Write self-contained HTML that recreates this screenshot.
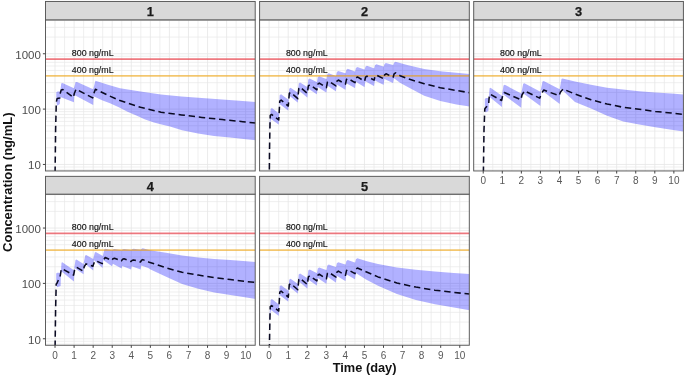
<!DOCTYPE html>
<html><head><meta charset="utf-8"><title>Concentration vs Time</title>
<style>html,body{margin:0;padding:0;background:#fff;}body{width:685px;height:376px;overflow:hidden;font-family:"Liberation Sans",sans-serif;}</style>
</head><body>
<svg width="685" height="376" viewBox="0 0 685 376" style="display:block;filter:blur(0.4px);font-family:'Liberation Sans',sans-serif">
<rect width="685" height="376" fill="#fff"/>
<g>
<clipPath id="cp0"><rect x="45.5" y="19.85" width="209.7" height="151.1"/></clipPath>
<rect x="45.5" y="19.85" width="209.7" height="151.1" fill="#fff"/>
<path d="M45.5 169.81H255.2M45.5 166.98H255.2M45.5 147.79H255.2M45.5 138.04H255.2M45.5 131.13H255.2M45.5 125.76H255.2M45.5 121.38H255.2M45.5 117.67H255.2M45.5 114.46H255.2M45.5 111.63H255.2M45.5 92.44H255.2M45.5 82.69H255.2M45.5 75.78H255.2M45.5 70.41H255.2M45.5 66.03H255.2M45.5 62.32H255.2M45.5 59.11H255.2M45.5 56.28H255.2M45.5 37.09H255.2M45.5 27.34H255.2M45.5 20.43H255.2M64.56 19.85V170.95M83.63 19.85V170.95M102.69 19.85V170.95M121.75 19.85V170.95M140.82 19.85V170.95M159.88 19.85V170.95M178.95 19.85V170.95M198.01 19.85V170.95M217.07 19.85V170.95M236.14 19.85V170.95" stroke="#e8e8e8" stroke-width="0.7" fill="none"/>
<path d="M45.5 164.45H255.2M45.5 109.10H255.2M45.5 53.75H255.2M55.03 19.85V170.95M74.10 19.85V170.95M93.16 19.85V170.95M112.22 19.85V170.95M131.29 19.85V170.95M150.35 19.85V170.95M169.41 19.85V170.95M188.48 19.85V170.95M207.54 19.85V170.95M226.60 19.85V170.95M245.67 19.85V170.95" stroke="#e6e6e6" stroke-width="0.8" fill="none"/>
<g clip-path="url(#cp0)">
<path d="M56.30 92.20 L57.60 91.40 L60.30 91.40 L61.20 83.50 L62.50 83.00 L73.90 88.30 L75.60 82.10 L77.00 82.00 L93.20 89.20 L95.40 80.80 L108.00 84.80 L120.00 88.30 L140.50 91.40 L161.00 94.40 L181.40 96.50 L201.90 98.10 L222.30 99.60 L242.80 101.00 L255.60 102.00 L255.60 140.30 L246.00 139.20 L230.00 137.60 L214.00 136.00 L198.00 133.50 L182.00 130.30 L170.00 126.60 L162.60 124.80 L153.90 122.60 L145.10 119.60 L136.30 115.60 L127.50 111.70 L118.80 107.30 L110.00 103.30 L102.00 100.20 L93.60 96.20 L93.20 104.90 L74.30 94.90 L73.90 102.30 L60.30 97.00 L59.80 104.00 L57.20 105.80 L56.30 101.40Z" fill="#0000ff" fill-opacity="0.305"/>
<path d="M45.5 59.11H255.2" stroke="#ea1420" stroke-opacity="0.55" stroke-width="1.7"/>
<path d="M45.5 75.78H255.2" stroke="#f2a000" stroke-opacity="0.55" stroke-width="1.7"/>
<path d="M55.10 173.00 L55.60 130.00 L56.30 102.00 L57.20 98.40 L59.80 97.90 L60.30 93.10 L61.20 90.00 L62.90 89.60 L73.40 97.50 L74.30 93.50 L76.10 89.20 L92.70 97.90 L94.10 92.70 L95.40 89.20 L108.00 95.30 L120.00 100.60 L140.50 107.30 L161.00 112.20 L181.40 114.90 L201.90 117.40 L222.30 119.60 L242.80 121.70 L255.60 123.10" fill="none" stroke="#0a0a22" stroke-width="1.55" stroke-dasharray="6.4 3.8" stroke-linejoin="round"/>
</g>
<text x="71.8" y="55.9" font-size="8.85" fill="#111" stroke="#111" stroke-width="0.15">800 ng/mL</text>
<text x="71.8" y="72.6" font-size="8.85" fill="#111" stroke="#111" stroke-width="0.15">400 ng/mL</text>
<rect x="45.5" y="19.85" width="209.7" height="151.1" fill="none" stroke="#555" stroke-width="0.95"/>
<rect x="45.5" y="1.4500000000000028" width="209.7" height="18.4" fill="#d9d9d9" stroke="#555" stroke-width="0.95"/>
<text x="150.3" y="15.85" font-size="12.8" font-weight="bold" stroke="#1a1a1a" stroke-width="0.25" text-anchor="middle" fill="#1a1a1a">1</text>
<text x="40.9" y="169.2" font-size="11.5" text-anchor="end" fill="#4d4d4d">10</text>
<text x="40.9" y="113.9" font-size="11.5" text-anchor="end" fill="#4d4d4d">100</text>
<text x="40.9" y="58.5" font-size="11.5" text-anchor="end" fill="#4d4d4d">1000</text>
<path d="M42.9 164.45H45.5M42.9 109.10H45.5M42.9 53.75H45.5" stroke="#444" stroke-width="1"/>
</g>
<g>
<clipPath id="cp1"><rect x="259.6" y="19.85" width="209.7" height="151.1"/></clipPath>
<rect x="259.6" y="19.85" width="209.7" height="151.1" fill="#fff"/>
<path d="M259.6 169.81H469.3M259.6 166.98H469.3M259.6 147.79H469.3M259.6 138.04H469.3M259.6 131.13H469.3M259.6 125.76H469.3M259.6 121.38H469.3M259.6 117.67H469.3M259.6 114.46H469.3M259.6 111.63H469.3M259.6 92.44H469.3M259.6 82.69H469.3M259.6 75.78H469.3M259.6 70.41H469.3M259.6 66.03H469.3M259.6 62.32H469.3M259.6 59.11H469.3M259.6 56.28H469.3M259.6 37.09H469.3M259.6 27.34H469.3M259.6 20.43H469.3M278.66 19.85V170.95M297.73 19.85V170.95M316.79 19.85V170.95M335.85 19.85V170.95M354.92 19.85V170.95M373.98 19.85V170.95M393.05 19.85V170.95M412.11 19.85V170.95M431.17 19.85V170.95M450.24 19.85V170.95" stroke="#e8e8e8" stroke-width="0.7" fill="none"/>
<path d="M259.6 164.45H469.3M259.6 109.10H469.3M259.6 53.75H469.3M269.13 19.85V170.95M288.20 19.85V170.95M307.26 19.85V170.95M326.32 19.85V170.95M345.39 19.85V170.95M364.45 19.85V170.95M383.51 19.85V170.95M402.58 19.85V170.95M421.64 19.85V170.95M440.70 19.85V170.95M459.77 19.85V170.95" stroke="#e6e6e6" stroke-width="0.8" fill="none"/>
<g clip-path="url(#cp1)">
<path d="M269.63 123.00 L270.63 109.00 L271.93 108.00 L278.56 113.20 L278.86 113.20 L279.66 95.20 L281.06 94.20 L288.09 99.50 L288.39 99.50 L289.19 88.70 L290.59 87.70 L297.63 92.60 L297.93 92.60 L298.73 83.50 L300.13 82.50 L307.16 86.90 L307.46 86.90 L308.26 79.50 L309.66 78.50 L316.69 82.00 L316.99 82.00 L317.79 77.30 L319.19 76.30 L326.22 78.90 L326.52 78.90 L327.32 74.30 L328.72 73.30 L335.75 76.00 L336.05 76.00 L336.85 72.10 L338.25 71.10 L345.28 73.30 L345.58 73.30 L346.38 69.80 L347.78 68.80 L354.82 71.40 L355.12 71.40 L355.92 68.10 L357.32 67.10 L364.35 69.40 L364.65 69.40 L365.45 66.80 L366.85 65.80 L373.88 68.20 L374.18 68.20 L374.98 65.20 L376.38 64.20 L383.41 66.40 L383.71 66.40 L384.51 64.10 L385.91 63.10 L392.94 65.10 L393.24 65.10 L394.04 62.80 L395.44 61.80 L408.20 65.30 L424.20 68.90 L440.30 71.20 L456.40 72.80 L469.60 73.90 L469.60 106.60 L456.40 104.60 L440.30 101.10 L424.20 95.80 L408.20 87.30 L400.00 82.80 L393.94 78.20 L393.14 83.10 L392.94 83.10 L384.41 79.10 L383.61 84.80 L383.41 84.80 L374.88 80.40 L374.08 86.10 L373.88 86.10 L365.35 81.30 L364.55 87.00 L364.35 87.00 L355.82 81.80 L355.02 88.10 L354.82 88.10 L346.28 83.20 L345.48 89.80 L345.28 89.80 L336.75 84.60 L335.95 91.30 L335.75 91.30 L327.22 85.50 L326.42 92.60 L326.22 92.60 L317.69 87.00 L316.89 94.30 L316.69 94.30 L308.16 88.50 L307.36 97.40 L307.16 97.40 L298.63 90.20 L297.83 102.50 L297.63 102.50 L289.09 95.50 L288.29 110.40 L288.09 110.40 L279.56 104.00 L278.76 124.60 L278.56 124.60 L271.03 119.00 L270.43 122.00 L269.63 131.00Z" fill="#0000ff" fill-opacity="0.305"/>
<path d="M259.6 59.11H469.3" stroke="#ea1420" stroke-opacity="0.55" stroke-width="1.7"/>
<path d="M259.6 75.78H469.3" stroke="#f2a000" stroke-opacity="0.55" stroke-width="1.7"/>
<path d="M269.13 200.00 L269.53 150.00 L269.93 127.00 L270.23 115.49 L271.63 114.49 L278.76 119.93 L279.76 101.08 L281.16 100.08 L288.29 106.04 L289.29 93.46 L290.69 92.46 L297.83 98.64 L298.83 88.27 L300.23 87.27 L307.36 93.41 L308.36 85.80 L309.76 84.80 L316.89 89.75 L317.89 84.15 L319.29 83.15 L326.42 87.67 L327.42 82.23 L328.82 81.23 L335.95 85.94 L336.95 81.01 L338.35 80.01 L345.48 84.19 L346.48 79.45 L347.88 78.45 L355.02 82.59 L356.02 77.95 L357.42 76.95 L364.55 81.19 L365.55 77.19 L366.95 76.19 L374.08 80.19 L375.08 76.05 L376.48 75.05 L383.61 78.73 L384.61 74.82 L386.01 73.82 L393.14 77.16 L394.14 73.79 L395.54 72.79 L400.10 75.70 L408.20 78.90 L424.20 83.70 L440.30 87.70 L456.40 90.50 L469.60 92.70" fill="none" stroke="#0a0a22" stroke-width="1.55" stroke-dasharray="6.4 3.8" stroke-linejoin="round"/>
</g>
<text x="285.9" y="55.9" font-size="8.85" fill="#111" stroke="#111" stroke-width="0.15">800 ng/mL</text>
<text x="285.9" y="72.6" font-size="8.85" fill="#111" stroke="#111" stroke-width="0.15">400 ng/mL</text>
<rect x="259.6" y="19.85" width="209.7" height="151.1" fill="none" stroke="#555" stroke-width="0.95"/>
<rect x="259.6" y="1.4500000000000028" width="209.7" height="18.4" fill="#d9d9d9" stroke="#555" stroke-width="0.95"/>
<text x="364.5" y="15.85" font-size="12.8" font-weight="bold" stroke="#1a1a1a" stroke-width="0.25" text-anchor="middle" fill="#1a1a1a">2</text>
</g>
<g>
<clipPath id="cp2"><rect x="473.7" y="19.85" width="209.7" height="151.1"/></clipPath>
<rect x="473.7" y="19.85" width="209.7" height="151.1" fill="#fff"/>
<path d="M473.7 169.81H683.4M473.7 166.98H683.4M473.7 147.79H683.4M473.7 138.04H683.4M473.7 131.13H683.4M473.7 125.76H683.4M473.7 121.38H683.4M473.7 117.67H683.4M473.7 114.46H683.4M473.7 111.63H683.4M473.7 92.44H683.4M473.7 82.69H683.4M473.7 75.78H683.4M473.7 70.41H683.4M473.7 66.03H683.4M473.7 62.32H683.4M473.7 59.11H683.4M473.7 56.28H683.4M473.7 37.09H683.4M473.7 27.34H683.4M473.7 20.43H683.4M492.76 19.85V170.95M511.83 19.85V170.95M530.89 19.85V170.95M549.95 19.85V170.95M569.02 19.85V170.95M588.08 19.85V170.95M607.15 19.85V170.95M626.21 19.85V170.95M645.27 19.85V170.95M664.34 19.85V170.95" stroke="#e8e8e8" stroke-width="0.7" fill="none"/>
<path d="M473.7 164.45H683.4M473.7 109.10H683.4M473.7 53.75H683.4M483.23 19.85V170.95M502.30 19.85V170.95M521.36 19.85V170.95M540.42 19.85V170.95M559.49 19.85V170.95M578.55 19.85V170.95M597.61 19.85V170.95M616.68 19.85V170.95M635.74 19.85V170.95M654.80 19.85V170.95M673.87 19.85V170.95" stroke="#e6e6e6" stroke-width="0.8" fill="none"/>
<g clip-path="url(#cp2)">
<path d="M484.80 99.00 L486.00 98.10 L488.80 98.10 L489.60 88.20 L490.50 87.70 L501.90 95.70 L503.50 85.40 L504.80 84.80 L521.20 93.50 L523.20 83.70 L524.40 83.20 L540.40 91.70 L542.50 81.40 L543.70 80.90 L559.70 89.30 L561.50 78.90 L562.50 78.40 L575.00 81.60 L591.00 84.80 L607.10 87.70 L623.20 89.60 L639.20 91.20 L655.30 92.50 L671.40 93.60 L683.60 94.40 L683.60 131.50 L671.40 129.80 L655.30 127.30 L639.20 124.60 L623.20 121.40 L607.10 115.80 L591.00 108.50 L575.00 102.10 L560.50 88.50 L559.70 104.00 L541.20 90.10 L540.40 106.10 L522.00 92.50 L521.20 107.70 L502.70 94.10 L501.90 106.90 L489.00 96.50 L488.40 111.00 L485.60 112.60 L484.80 108.00Z" fill="#0000ff" fill-opacity="0.305"/>
<path d="M473.7 59.11H683.4" stroke="#ea1420" stroke-opacity="0.55" stroke-width="1.7"/>
<path d="M473.7 75.78H683.4" stroke="#f2a000" stroke-opacity="0.55" stroke-width="1.7"/>
<path d="M483.40 173.00 L484.00 130.00 L484.80 109.00 L485.60 107.70 L488.60 104.50 L489.20 97.00 L489.90 94.10 L501.60 100.50 L502.60 96.00 L504.30 92.50 L520.90 99.70 L522.00 95.00 L524.40 90.90 L539.70 98.10 L541.50 93.50 L543.70 90.10 L559.00 95.70 L560.50 92.00 L563.00 89.00 L575.00 94.10 L591.00 99.70 L607.10 104.00 L623.20 107.30 L639.20 109.30 L655.30 111.40 L671.40 113.00 L683.60 114.50" fill="none" stroke="#0a0a22" stroke-width="1.55" stroke-dasharray="6.4 3.8" stroke-linejoin="round"/>
</g>
<text x="500.0" y="55.9" font-size="8.85" fill="#111" stroke="#111" stroke-width="0.15">800 ng/mL</text>
<text x="500.0" y="72.6" font-size="8.85" fill="#111" stroke="#111" stroke-width="0.15">400 ng/mL</text>
<rect x="473.7" y="19.85" width="209.7" height="151.1" fill="none" stroke="#555" stroke-width="0.95"/>
<rect x="473.7" y="1.4500000000000028" width="209.7" height="18.4" fill="#d9d9d9" stroke="#555" stroke-width="0.95"/>
<text x="578.5" y="15.85" font-size="12.8" font-weight="bold" stroke="#1a1a1a" stroke-width="0.25" text-anchor="middle" fill="#1a1a1a">3</text>
<text x="483.2" y="184.3" font-size="10" text-anchor="middle" fill="#585858">0</text>
<text x="502.3" y="184.3" font-size="10" text-anchor="middle" fill="#585858">1</text>
<text x="521.4" y="184.3" font-size="10" text-anchor="middle" fill="#585858">2</text>
<text x="540.4" y="184.3" font-size="10" text-anchor="middle" fill="#585858">3</text>
<text x="559.5" y="184.3" font-size="10" text-anchor="middle" fill="#585858">4</text>
<text x="578.5" y="184.3" font-size="10" text-anchor="middle" fill="#585858">5</text>
<text x="597.6" y="184.3" font-size="10" text-anchor="middle" fill="#585858">6</text>
<text x="616.7" y="184.3" font-size="10" text-anchor="middle" fill="#585858">7</text>
<text x="635.7" y="184.3" font-size="10" text-anchor="middle" fill="#585858">8</text>
<text x="654.8" y="184.3" font-size="10" text-anchor="middle" fill="#585858">9</text>
<text x="673.9" y="184.3" font-size="10" text-anchor="middle" fill="#585858">10</text>
<path d="M483.23 170.95v2.6M502.30 170.95v2.6M521.36 170.95v2.6M540.42 170.95v2.6M559.49 170.95v2.6M578.55 170.95v2.6M597.61 170.95v2.6M616.68 170.95v2.6M635.74 170.95v2.6M654.80 170.95v2.6M673.87 170.95v2.6" stroke="#444" stroke-width="1"/>
</g>
<g>
<clipPath id="cp3"><rect x="45.5" y="194.15" width="209.7" height="151.1"/></clipPath>
<rect x="45.5" y="194.15" width="209.7" height="151.1" fill="#fff"/>
<path d="M45.5 344.11H255.2M45.5 341.28H255.2M45.5 322.09H255.2M45.5 312.34H255.2M45.5 305.43H255.2M45.5 300.06H255.2M45.5 295.68H255.2M45.5 291.97H255.2M45.5 288.76H255.2M45.5 285.93H255.2M45.5 266.74H255.2M45.5 256.99H255.2M45.5 250.08H255.2M45.5 244.71H255.2M45.5 240.33H255.2M45.5 236.62H255.2M45.5 233.41H255.2M45.5 230.58H255.2M45.5 211.39H255.2M45.5 201.64H255.2M45.5 194.73H255.2M64.56 194.15V345.25M83.63 194.15V345.25M102.69 194.15V345.25M121.75 194.15V345.25M140.82 194.15V345.25M159.88 194.15V345.25M178.95 194.15V345.25M198.01 194.15V345.25M217.07 194.15V345.25M236.14 194.15V345.25" stroke="#e8e8e8" stroke-width="0.7" fill="none"/>
<path d="M45.5 338.75H255.2M45.5 283.40H255.2M45.5 228.05H255.2M55.03 194.15V345.25M74.10 194.15V345.25M93.16 194.15V345.25M112.22 194.15V345.25M131.29 194.15V345.25M150.35 194.15V345.25M169.41 194.15V345.25M188.48 194.15V345.25M207.54 194.15V345.25M226.60 194.15V345.25M245.67 194.15V345.25" stroke="#e6e6e6" stroke-width="0.8" fill="none"/>
<g clip-path="url(#cp3)">
<path d="M56.20 273.50 L57.20 272.70 L60.80 272.70 L61.50 262.80 L62.30 262.30 L73.90 270.30 L75.50 259.90 L76.50 259.40 L83.50 263.90 L85.20 255.60 L86.20 255.10 L93.20 259.10 L94.80 252.40 L95.80 251.90 L102.80 255.90 L104.40 249.20 L105.40 248.70 L112.00 250.30 L113.50 249.20 L114.50 249.00 L121.60 250.30 L123.00 249.20 L124.00 249.00 L131.10 250.00 L132.60 248.90 L133.70 248.70 L140.60 249.80 L142.00 248.40 L142.80 248.20 L150.00 250.20 L158.00 251.40 L166.10 252.80 L182.10 255.60 L198.20 257.40 L214.20 258.90 L230.30 260.10 L246.40 261.30 L255.60 262.00 L255.60 298.90 L246.40 297.60 L230.30 295.10 L214.20 292.40 L198.20 288.70 L182.10 283.90 L166.10 276.80 L150.00 269.30 L148.20 268.00 L141.30 265.60 L140.60 269.40 L131.80 266.30 L131.10 269.40 L122.30 265.90 L121.60 268.50 L112.80 263.70 L112.00 266.30 L103.20 260.00 L102.60 267.90 L93.90 259.90 L93.20 270.40 L84.20 263.10 L83.50 274.30 L74.50 267.90 L73.90 281.40 L61.00 271.10 L60.60 286.00 L57.00 287.20 L56.20 283.00Z" fill="#0000ff" fill-opacity="0.305"/>
<path d="M45.5 233.41H255.2" stroke="#ea1420" stroke-opacity="0.55" stroke-width="1.7"/>
<path d="M45.5 250.08H255.2" stroke="#f2a000" stroke-opacity="0.55" stroke-width="1.7"/>
<path d="M55.10 347.00 L55.60 310.00 L56.20 284.00 L57.00 283.20 L60.30 275.50 L61.00 271.00 L61.90 268.70 L73.60 275.10 L74.60 270.00 L76.30 267.10 L83.20 271.10 L84.30 266.50 L86.00 263.90 L92.90 266.30 L94.00 263.00 L95.60 260.70 L102.20 263.60 L103.50 260.00 L105.20 257.50 L111.80 260.50 L113.00 258.70 L114.50 258.30 L121.40 260.90 L122.60 259.20 L124.00 258.80 L131.00 261.50 L132.30 260.20 L133.70 259.90 L140.40 262.00 L141.60 260.20 L142.80 259.60 L150.00 262.60 L154.60 263.90 L166.10 267.90 L182.10 272.30 L198.20 275.10 L214.20 277.60 L230.30 279.50 L246.40 281.60 L255.60 282.40" fill="none" stroke="#0a0a22" stroke-width="1.55" stroke-dasharray="6.4 3.8" stroke-linejoin="round"/>
</g>
<text x="71.8" y="230.2" font-size="8.85" fill="#111" stroke="#111" stroke-width="0.15">800 ng/mL</text>
<text x="71.8" y="246.9" font-size="8.85" fill="#111" stroke="#111" stroke-width="0.15">400 ng/mL</text>
<rect x="45.5" y="194.15" width="209.7" height="151.1" fill="none" stroke="#555" stroke-width="0.95"/>
<rect x="45.5" y="176.35" width="209.7" height="17.8" fill="#d9d9d9" stroke="#555" stroke-width="0.95"/>
<text x="150.3" y="190.65" font-size="12.8" font-weight="bold" stroke="#1a1a1a" stroke-width="0.25" text-anchor="middle" fill="#1a1a1a">4</text>
<text x="40.9" y="343.6" font-size="11.5" text-anchor="end" fill="#4d4d4d">10</text>
<text x="40.9" y="288.2" font-size="11.5" text-anchor="end" fill="#4d4d4d">100</text>
<text x="40.9" y="232.9" font-size="11.5" text-anchor="end" fill="#4d4d4d">1000</text>
<path d="M42.9 338.75H45.5M42.9 283.40H45.5M42.9 228.05H45.5" stroke="#444" stroke-width="1"/>
<text x="55.0" y="358.6" font-size="10" text-anchor="middle" fill="#585858">0</text>
<text x="74.1" y="358.6" font-size="10" text-anchor="middle" fill="#585858">1</text>
<text x="93.2" y="358.6" font-size="10" text-anchor="middle" fill="#585858">2</text>
<text x="112.2" y="358.6" font-size="10" text-anchor="middle" fill="#585858">3</text>
<text x="131.3" y="358.6" font-size="10" text-anchor="middle" fill="#585858">4</text>
<text x="150.3" y="358.6" font-size="10" text-anchor="middle" fill="#585858">5</text>
<text x="169.4" y="358.6" font-size="10" text-anchor="middle" fill="#585858">6</text>
<text x="188.5" y="358.6" font-size="10" text-anchor="middle" fill="#585858">7</text>
<text x="207.5" y="358.6" font-size="10" text-anchor="middle" fill="#585858">8</text>
<text x="226.6" y="358.6" font-size="10" text-anchor="middle" fill="#585858">9</text>
<text x="245.7" y="358.6" font-size="10" text-anchor="middle" fill="#585858">10</text>
<path d="M55.03 345.25v2.6M74.10 345.25v2.6M93.16 345.25v2.6M112.22 345.25v2.6M131.29 345.25v2.6M150.35 345.25v2.6M169.41 345.25v2.6M188.48 345.25v2.6M207.54 345.25v2.6M226.60 345.25v2.6M245.67 345.25v2.6" stroke="#444" stroke-width="1"/>
</g>
<g>
<clipPath id="cp4"><rect x="259.6" y="194.15" width="209.7" height="151.1"/></clipPath>
<rect x="259.6" y="194.15" width="209.7" height="151.1" fill="#fff"/>
<path d="M259.6 344.11H469.3M259.6 341.28H469.3M259.6 322.09H469.3M259.6 312.34H469.3M259.6 305.43H469.3M259.6 300.06H469.3M259.6 295.68H469.3M259.6 291.97H469.3M259.6 288.76H469.3M259.6 285.93H469.3M259.6 266.74H469.3M259.6 256.99H469.3M259.6 250.08H469.3M259.6 244.71H469.3M259.6 240.33H469.3M259.6 236.62H469.3M259.6 233.41H469.3M259.6 230.58H469.3M259.6 211.39H469.3M259.6 201.64H469.3M259.6 194.73H469.3M278.66 194.15V345.25M297.73 194.15V345.25M316.79 194.15V345.25M335.85 194.15V345.25M354.92 194.15V345.25M373.98 194.15V345.25M393.05 194.15V345.25M412.11 194.15V345.25M431.17 194.15V345.25M450.24 194.15V345.25" stroke="#e8e8e8" stroke-width="0.7" fill="none"/>
<path d="M259.6 338.75H469.3M259.6 283.40H469.3M259.6 228.05H469.3M269.13 194.15V345.25M288.20 194.15V345.25M307.26 194.15V345.25M326.32 194.15V345.25M345.39 194.15V345.25M364.45 194.15V345.25M383.51 194.15V345.25M402.58 194.15V345.25M421.64 194.15V345.25M440.70 194.15V345.25M459.77 194.15V345.25" stroke="#e6e6e6" stroke-width="0.8" fill="none"/>
<g clip-path="url(#cp4)">
<path d="M269.63 314.10 L270.63 300.10 L271.93 299.10 L278.56 304.30 L278.86 304.30 L279.66 286.30 L281.06 285.30 L288.09 290.60 L288.39 290.60 L289.19 279.80 L290.59 278.80 L297.63 283.70 L297.93 283.70 L298.73 274.60 L300.13 273.60 L307.16 278.00 L307.46 278.00 L308.26 270.60 L309.66 269.60 L316.69 273.10 L316.99 273.10 L317.79 268.40 L319.19 267.40 L326.22 270.00 L326.52 270.00 L327.32 265.40 L328.72 264.40 L335.75 267.10 L336.05 267.10 L336.85 263.20 L338.25 262.20 L345.28 264.40 L345.58 264.40 L346.38 260.90 L347.78 259.90 L354.82 262.50 L355.12 262.50 L355.92 259.20 L357.32 258.20 L367.00 261.20 L378.00 264.00 L396.90 267.40 L415.90 269.70 L434.90 271.60 L453.90 273.10 L469.60 274.10 L469.60 310.20 L453.90 307.60 L434.90 304.20 L415.90 300.00 L396.90 294.00 L378.00 285.80 L366.00 279.50 L355.82 272.90 L355.02 279.20 L354.82 279.20 L346.28 274.30 L345.48 280.90 L345.28 280.90 L336.75 275.70 L335.95 282.40 L335.75 282.40 L327.22 276.60 L326.42 283.70 L326.22 283.70 L317.69 278.10 L316.89 285.40 L316.69 285.40 L308.16 279.60 L307.36 288.50 L307.16 288.50 L298.63 281.30 L297.83 293.60 L297.63 293.60 L289.09 286.60 L288.29 301.50 L288.09 301.50 L279.56 295.10 L278.76 315.70 L278.56 315.70 L271.03 310.10 L270.43 313.10 L269.63 322.10Z" fill="#0000ff" fill-opacity="0.305"/>
<path d="M259.6 233.41H469.3" stroke="#ea1420" stroke-opacity="0.55" stroke-width="1.7"/>
<path d="M259.6 250.08H469.3" stroke="#f2a000" stroke-opacity="0.55" stroke-width="1.7"/>
<path d="M269.13 391.10 L269.53 341.10 L269.93 318.10 L270.23 306.59 L271.63 305.59 L278.76 311.03 L279.76 292.18 L281.16 291.18 L288.29 297.14 L289.29 284.56 L290.69 283.56 L297.83 289.74 L298.83 279.37 L300.23 278.37 L307.36 284.51 L308.36 276.90 L309.76 275.90 L316.89 280.85 L317.89 275.25 L319.29 274.25 L326.42 278.77 L327.42 273.33 L328.82 272.33 L335.95 277.05 L336.95 272.11 L338.35 271.11 L345.48 275.29 L346.48 270.55 L347.88 269.55 L355.02 273.69 L356.02 269.05 L357.42 268.05 L366.00 271.80 L378.00 276.90 L396.90 283.00 L415.90 287.10 L434.90 290.20 L453.90 292.40 L469.60 294.10" fill="none" stroke="#0a0a22" stroke-width="1.55" stroke-dasharray="6.4 3.8" stroke-linejoin="round"/>
</g>
<text x="285.9" y="230.2" font-size="8.85" fill="#111" stroke="#111" stroke-width="0.15">800 ng/mL</text>
<text x="285.9" y="246.9" font-size="8.85" fill="#111" stroke="#111" stroke-width="0.15">400 ng/mL</text>
<rect x="259.6" y="194.15" width="209.7" height="151.1" fill="none" stroke="#555" stroke-width="0.95"/>
<rect x="259.6" y="176.35" width="209.7" height="17.8" fill="#d9d9d9" stroke="#555" stroke-width="0.95"/>
<text x="364.5" y="190.65" font-size="12.8" font-weight="bold" stroke="#1a1a1a" stroke-width="0.25" text-anchor="middle" fill="#1a1a1a">5</text>
<text x="269.1" y="358.6" font-size="10" text-anchor="middle" fill="#585858">0</text>
<text x="288.2" y="358.6" font-size="10" text-anchor="middle" fill="#585858">1</text>
<text x="307.3" y="358.6" font-size="10" text-anchor="middle" fill="#585858">2</text>
<text x="326.3" y="358.6" font-size="10" text-anchor="middle" fill="#585858">3</text>
<text x="345.4" y="358.6" font-size="10" text-anchor="middle" fill="#585858">4</text>
<text x="364.5" y="358.6" font-size="10" text-anchor="middle" fill="#585858">5</text>
<text x="383.5" y="358.6" font-size="10" text-anchor="middle" fill="#585858">6</text>
<text x="402.6" y="358.6" font-size="10" text-anchor="middle" fill="#585858">7</text>
<text x="421.6" y="358.6" font-size="10" text-anchor="middle" fill="#585858">8</text>
<text x="440.7" y="358.6" font-size="10" text-anchor="middle" fill="#585858">9</text>
<text x="459.8" y="358.6" font-size="10" text-anchor="middle" fill="#585858">10</text>
<path d="M269.13 345.25v2.6M288.20 345.25v2.6M307.26 345.25v2.6M326.32 345.25v2.6M345.39 345.25v2.6M364.45 345.25v2.6M383.51 345.25v2.6M402.58 345.25v2.6M421.64 345.25v2.6M440.70 345.25v2.6M459.77 345.25v2.6" stroke="#444" stroke-width="1"/>
</g>
<text x="364.6" y="372.4" font-size="12.8" font-weight="bold" text-anchor="middle" fill="#111">Time (day)</text>
<text transform="translate(11.8 182.2) rotate(-90)" font-size="13" font-weight="bold" text-anchor="middle" fill="#111">Concentration (ng/mL)</text>
</svg>
</body></html>
